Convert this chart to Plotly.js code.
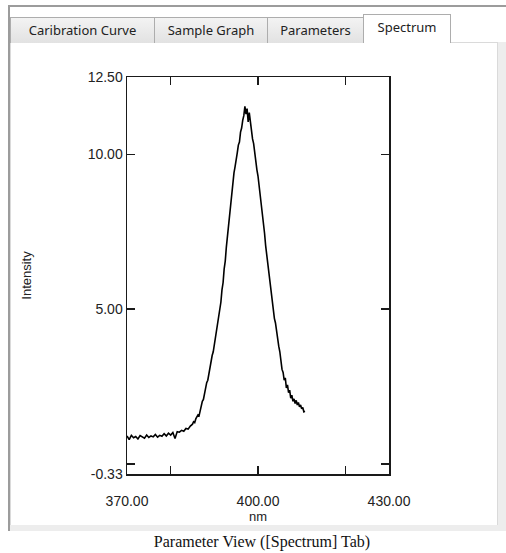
<!DOCTYPE html>
<html>
<head>
<meta charset="utf-8">
<script src="https://cdn.plot.ly/plotly-3.0.1.min.js"></script>
<style>
  html, body { margin: 0; padding: 0; background: #ffffff; }
  #wrap { position: relative; width: 506px; height: 553px; overflow: hidden; font-family: "Noto Sans", "DejaVu Sans", sans-serif; }
  .abs { position: absolute; box-sizing: border-box; }
  #frame { left: 8px; top: 5px; width: 498px; height: 526px; border-left: 2px solid #9c9c9c; border-top: 2px solid #9c9c9c; background: #ffffff; }
  #panel { left: 10px; top: 42px; width: 488px; height: 484px; background: #ffffff; border: 1px solid #dadada; }
  #rstrip { left: 498px; top: 42px; width: 8px; height: 489px; background: #ededed; }
  #bstrip { left: 10px; top: 525px; width: 496px; height: 6px; background: #ededed; }
  .tab { height: 26px; top: 17px; border: 1px solid #adadad; border-bottom: none; background: linear-gradient(#f3f3f3, #e2e2e2); font-size: 13px; color: #222; line-height: 24px; text-align: center; white-space: nowrap; }
  .tab.active { top: 14px; height: 29px; background: #ffffff; line-height: 24px; z-index: 2; }
  #chart { left: 0; top: 0; width: 506px; height: 553px; z-index: 3; }
  #caption { left: 0; top: 533px; width: 524px; text-align: center; font-family: "Liberation Serif", "Times New Roman", serif; font-size: 16px; color: #111; z-index: 4; }
</style>
</head>
<body>
<div id="wrap">
  <div id="frame" class="abs"></div>
  <div id="panel" class="abs"></div>
  <div id="rstrip" class="abs"></div>
  <div id="bstrip" class="abs"></div>
  <div class="abs tab" style="left:10px;width:145px;">Caribration Curve</div>
  <div class="abs tab" style="left:154px;width:114px;">Sample Graph</div>
  <div class="abs tab" style="left:267px;width:97px;">Parameters</div>
  <div class="abs tab active" style="left:363px;width:88px;">Spectrum</div>
  <div id="chart" class="abs"></div>
  <div id="caption" class="abs">Parameter View ([Spectrum] Tab)</div>
</div>
<script>
// Wavelength (nm)
var wavelength = [
  370.0, 370.5, 371.0, 371.5, 372.0, 372.5, 373.0, 373.5, 374.0, 374.5,
  375.0, 375.5, 376.0, 376.5, 377.0, 377.5, 378.0, 378.5, 379.0, 379.5,
  380.0, 380.5, 381.0, 381.5, 382.0, 382.5, 383.0, 383.5, 384.0, 384.5,
  385.0, 385.25, 385.5, 385.75, 386.0, 386.25, 386.5, 386.75, 387.0, 387.25,
  387.5, 387.75, 388.0, 388.25, 388.5, 388.75, 389.0, 389.25, 389.5, 389.75,
  390.0, 390.25, 390.5, 390.75, 391.0, 391.25, 391.5, 391.75, 392.0, 392.25,
  392.5, 392.75, 393.0, 393.25, 393.5, 393.75, 394.0, 394.25, 394.5, 394.75,
  395.0, 395.25, 395.5, 395.75, 396.0, 396.25, 396.5, 396.75, 397.0, 397.25,
  397.5, 397.75, 398.0, 398.25, 398.5, 398.75, 399.0, 399.25, 399.5, 399.75,
  400.0, 400.25, 400.5, 400.75, 401.0, 401.25, 401.5, 401.75, 402.0, 402.25,
  402.5, 402.75, 403.0, 403.25, 403.5, 403.75, 404.0, 404.25, 404.5, 404.75,
  405.0, 405.25, 405.5, 405.75, 406.0, 406.25, 406.5, 406.75, 407.0, 407.25,
  407.5, 407.75, 408.0, 408.25, 408.5, 408.75, 409.0, 409.25, 409.5, 409.75,
  410.0, 410.25, 410.5, 410.75
];
// Intensity
var intensity = [
  0.90, 0.78, 0.92, 0.84, 0.88, 0.80, 0.91, 0.86, 0.83, 0.93,
  0.85, 0.90, 0.87, 0.95, 0.86, 0.92, 0.89, 0.97, 0.90, 0.99,
  0.93, 1.01, 0.82, 1.04, 1.02, 1.08, 1.05, 1.14, 1.12, 1.22,
  1.28, 1.36, 1.33, 1.45, 1.50, 1.58, 1.55, 1.72, 1.78, 2.02,
  2.08, 2.30, 2.38, 2.62, 2.70, 2.92, 3.08, 3.25, 3.50, 3.62,
  3.85, 4.10, 4.28, 4.60, 4.75, 5.10, 5.22, 5.62, 5.85, 6.30,
  6.55, 7.00, 7.35, 7.75, 8.20, 8.48, 8.90, 9.05, 9.40, 9.60,
  9.78, 10.05, 10.30, 10.40, 10.72, 10.85, 11.10, 11.25, 11.55, 11.30,
  11.48, 11.05, 11.35, 11.00, 10.85, 10.50, 10.35, 10.00, 9.80, 9.50,
  9.30, 9.00, 8.78, 8.40, 8.15, 7.75, 7.45, 7.05, 6.75, 6.38,
  6.10, 5.78, 5.50, 5.20, 5.00, 4.70, 4.55, 4.25, 4.10, 3.80,
  3.62, 3.30, 3.05, 2.95, 2.70, 2.78, 2.45, 2.55, 2.30, 2.38,
  2.12, 2.22, 2.02, 2.10, 1.95, 2.05, 1.90, 1.98, 1.84, 1.90,
  1.78, 1.82, 1.68, 1.70
];
// Axis ticks and labels
var xTickVals = [370, 380, 400, 420, 430];
var xTickText = ['370.00', '', '400.00', '', '430.00'];
var yTickVals = [-0.33, 0, 5, 10, 12.5];
var yTickText = ['-0.33', '', '5.00', '10.00', '12.50'];
var xRange = [370, 430];
var yRange = [-0.33, 12.5];

var trace = {
  x: wavelength,
  y: intensity,
  type: 'scatter',
  mode: 'lines',
  line: { color: '#000000', width: 1.6 },
  hoverinfo: 'skip'
};

var axisFont = { family: 'Liberation Sans, Arial, sans-serif', size: 14, color: '#222222' };

var layout = {
  width: 506,
  height: 553,
  margin: { l: 127, r: 117, t: 77, b: 79, pad: 0 },
  paper_bgcolor: 'rgba(0,0,0,0)',
  plot_bgcolor: '#ffffff',
  showlegend: false,
  xaxis: {
    range: xRange,
    tickvals: xTickVals,
    ticktext: xTickText,
    ticks: 'inside',
    ticklen: 8,
    tickwidth: 1.5,
    tickcolor: '#1a1a1a',
    showline: true,
    linewidth: 1.5,
    linecolor: '#1a1a1a',
    mirror: 'ticks',
    showgrid: false,
    zeroline: false,
    tickfont: axisFont,
    ticklabelstandoff: 14,
    title: { text: 'nm', font: { family: 'Liberation Sans, Arial, sans-serif', size: 13, color: '#222222' }, standoff: 1 }
  },
  yaxis: {
    range: yRange,
    tickvals: yTickVals,
    ticktext: yTickText,
    ticks: 'inside',
    ticklen: 8,
    tickwidth: 1.5,
    tickcolor: '#1a1a1a',
    showline: true,
    linewidth: 1.5,
    linecolor: '#1a1a1a',
    mirror: 'ticks',
    showgrid: false,
    zeroline: false,
    tickfont: axisFont,
    title: { text: 'Intensity', font: { family: 'Liberation Sans, Arial, sans-serif', size: 13, color: '#222222' }, standoff: 53 }
  }
};

Plotly.newPlot('chart', [trace], layout, { displayModeBar: false, staticPlot: true });
</script>
</body>
</html>
